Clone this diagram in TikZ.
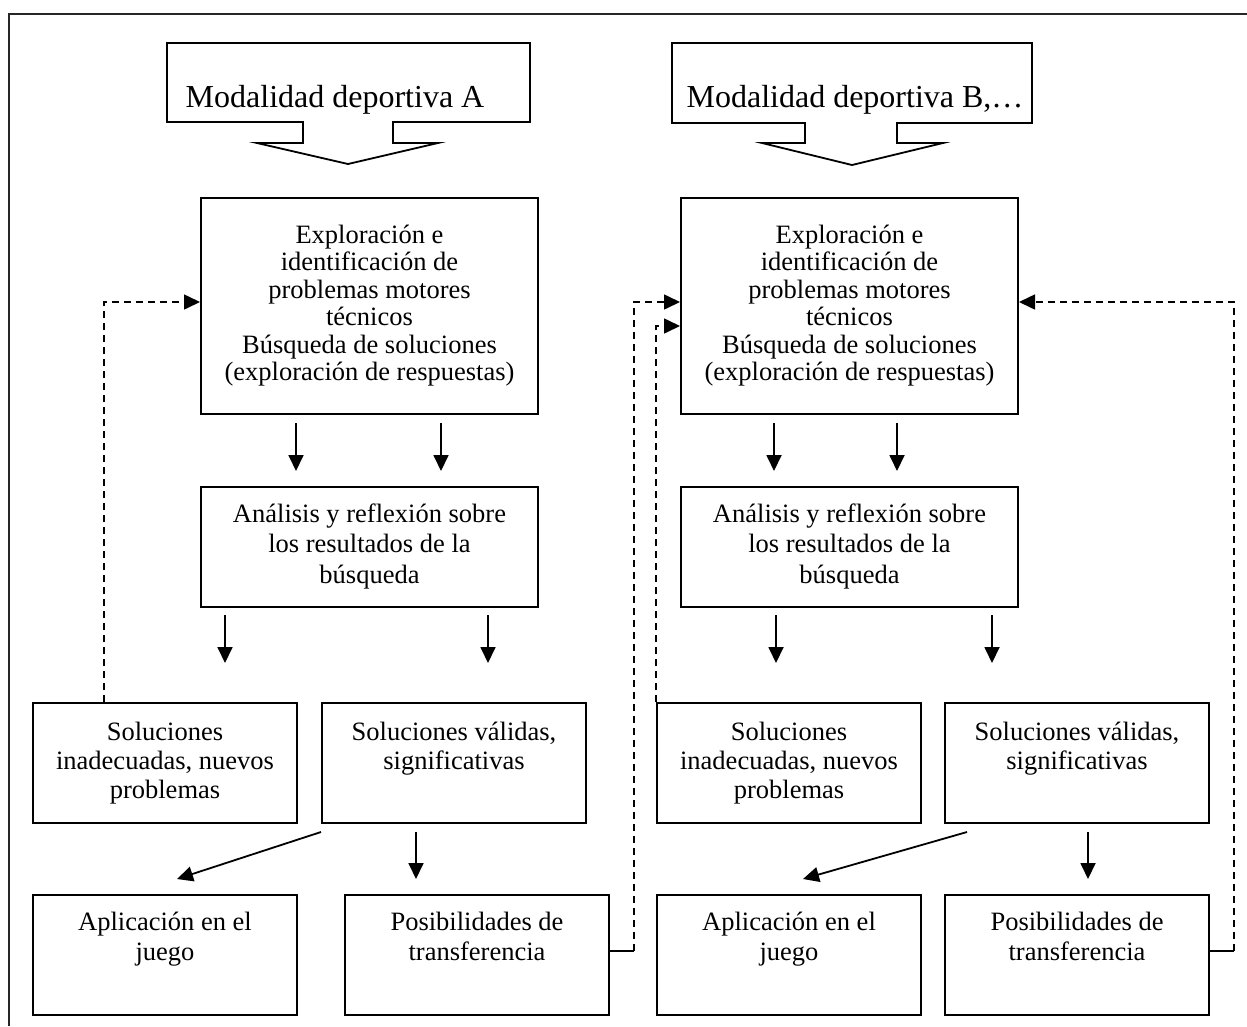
\documentclass[tikz,border=0pt]{standalone}
\usepackage{fontspec}
\setmainfont{Liberation Serif}
\usetikzlibrary{arrows.meta,calc}
\begin{document}
\begin{tikzpicture}[x=1pt,y=-1pt,
  box/.style 2 args={draw, line width=2pt, minimum width=#1, minimum height=#2, inner sep=0pt},
  txt/.style={align=center, inner sep=0pt, anchor=base, font=\fontsize{26.5}{30.5}\selectfont},
  txttight/.style={txt, font=\fontsize{26.5}{27.5}\selectfont},
  txtsol/.style={txt, font=\fontsize{26.5}{29}\selectfont},
  txtbot/.style={txt, font=\fontsize{26.5}{30}\selectfont},
  txtbig/.style={inner sep=0pt, anchor=base, font=\fontsize{32}{36}\selectfont},
  callout/.style={draw, line width=1.8pt, line join=miter},
  arr/.style={line width=1.8pt, -{Triangle[length=16pt,width=15pt]}},
  dasharr/.style={line width=1.6pt, dash pattern=on 7pt off 5pt, -{Triangle[length=16pt,width=15pt]}},
  wire/.style={line width=1.6pt}
]
\useasboundingbox (0,0) rectangle (1247,1026);

% page frame (top and left rules)
\draw[line width=1.4pt, draw=black!85] (9,1026) -- (9,14) -- (1247,14);

% ---------- column A ----------
\draw[callout] (167,43) -- (530,43) -- (530,122) -- (393,122) -- (393,143) -- (438,143)
  -- (348,164) -- (257,143) -- (303,143) -- (303,122) -- (167,122) -- cycle;
\node[txtbig] (modA) at (335,107) {Modalidad deportiva A};

\node[box={337pt}{216pt}] (expA) at (369.5,306) {};
\node[txttight] (expAt) at (369.5,380.5) {Exploración e\\identificación de\\problemas motores\\técnicos\\Búsqueda de soluciones\\(exploración de respuestas)};

\node[box={337pt}{120pt}] (anaA) at (369.5,547) {};
\node[txt] (anaAt) at (369.5,583) {Análisis y reflexión sobre\\los resultados de la\\búsqueda};

\node[box={264pt}{120pt}] (solInA) at (165,763) {};
\node[txtsol] (solInAt) at (165,798) {Soluciones\\inadecuadas, nuevos\\problemas};

\node[box={264pt}{120pt}] (solVaA) at (454,763) {};
\node[txtsol] (solVaAt) at (454,769) {Soluciones válidas,\\significativas};

\node[box={264pt}{120pt}] (aplA) at (165,955) {};
\node[txtbot] (aplAt) at (165,960) {Aplicación en el\\juego};

\node[box={264pt}{120pt}] (posA) at (477,955) {};
\node[txtbot] (posAt) at (477,960) {Posibilidades de\\transferencia};

\draw[arr] ($(expA.south west)+(96,8)$) -- ++(0,48);
\draw[arr] ($(expA.south west)+(241,8)$) -- ++(0,48);
\draw[arr] ($(anaA.south west)+(25,7)$) -- ++(0,48);
\draw[arr] ($(anaA.south west)+(288,7)$) -- ++(0,48);
\draw[arr] ($(solVaA.south west)+(0,8)$) -- ($(aplA.north west)+(145,-15)$);
\draw[arr] ($(solVaA.south west)+(95,8)$) -- ++(0,47);

% ---------- column B ----------
\draw[callout] (672,43) -- (1032,43) -- (1032,123) -- (897,123) -- (897,143) -- (943,143)
  -- (852,165) -- (762,143) -- (805,143) -- (805,123) -- (672,123) -- cycle;
\node[txtbig] (modB) at (855,107) {Modalidad deportiva B,…};

\node[box={337pt}{216pt}] (expB) at (849.5,306) {};
\node[txttight] (expBt) at (849.5,380.5) {Exploración e\\identificación de\\problemas motores\\técnicos\\Búsqueda de soluciones\\(exploración de respuestas)};

\node[box={337pt}{120pt}] (anaB) at (849.5,547) {};
\node[txt] (anaBt) at (849.5,583) {Análisis y reflexión sobre\\los resultados de la\\búsqueda};

\node[box={264pt}{120pt}] (solInB) at (789,763) {};
\node[txtsol] (solInBt) at (789,798) {Soluciones\\inadecuadas, nuevos\\problemas};

\node[box={264pt}{120pt}] (solVaB) at (1077,763) {};
\node[txtsol] (solVaBt) at (1077,769) {Soluciones válidas,\\significativas};

\node[box={264pt}{120pt}] (aplB) at (789,955) {};
\node[txtbot] (aplBt) at (789,960) {Aplicación en el\\juego};

\node[box={264pt}{120pt}] (posB) at (1077,955) {};
\node[txtbot] (posBt) at (1077,960) {Posibilidades de\\transferencia};

\draw[arr] ($(expB.south west)+(94,8)$) -- ++(0,48);
\draw[arr] ($(expB.south west)+(217,8)$) -- ++(0,48);
\draw[arr] ($(anaB.south west)+(96,7)$) -- ++(0,48);
\draw[arr] ($(anaB.south west)+(312,7)$) -- ++(0,48);
\draw[arr] ($(solVaB.south west)+(23,8)$) -- ($(aplB.north west)+(147,-15)$);
\draw[arr] ($(solVaB.south west)+(144,8)$) -- ++(0,47);

% ---------- feedback loops ----------
\draw[dasharr] ($(solInA.north west)+(72,0)$) |- ($(expA.north west)+(0,105)$);

\coordinate (turnA) at ($(posA.east)+(24,-4)$);
\draw[wire] ($(posA.east)+(0,-4)$) -- (turnA);
\draw[dasharr] (turnA) |- ($(expB.north west)+(0,105)$);

\draw[dasharr] (solInB.north west) |- ($(expB.north west)+(0,129)$);

\coordinate (turnB) at ($(posB.east)+(24,-4)$);
\draw[wire] ($(posB.east)+(0,-4)$) -- (turnB);
\draw[dasharr] (turnB) |- ($(expB.north east)+(0,105)$);
\end{tikzpicture}
\end{document}
